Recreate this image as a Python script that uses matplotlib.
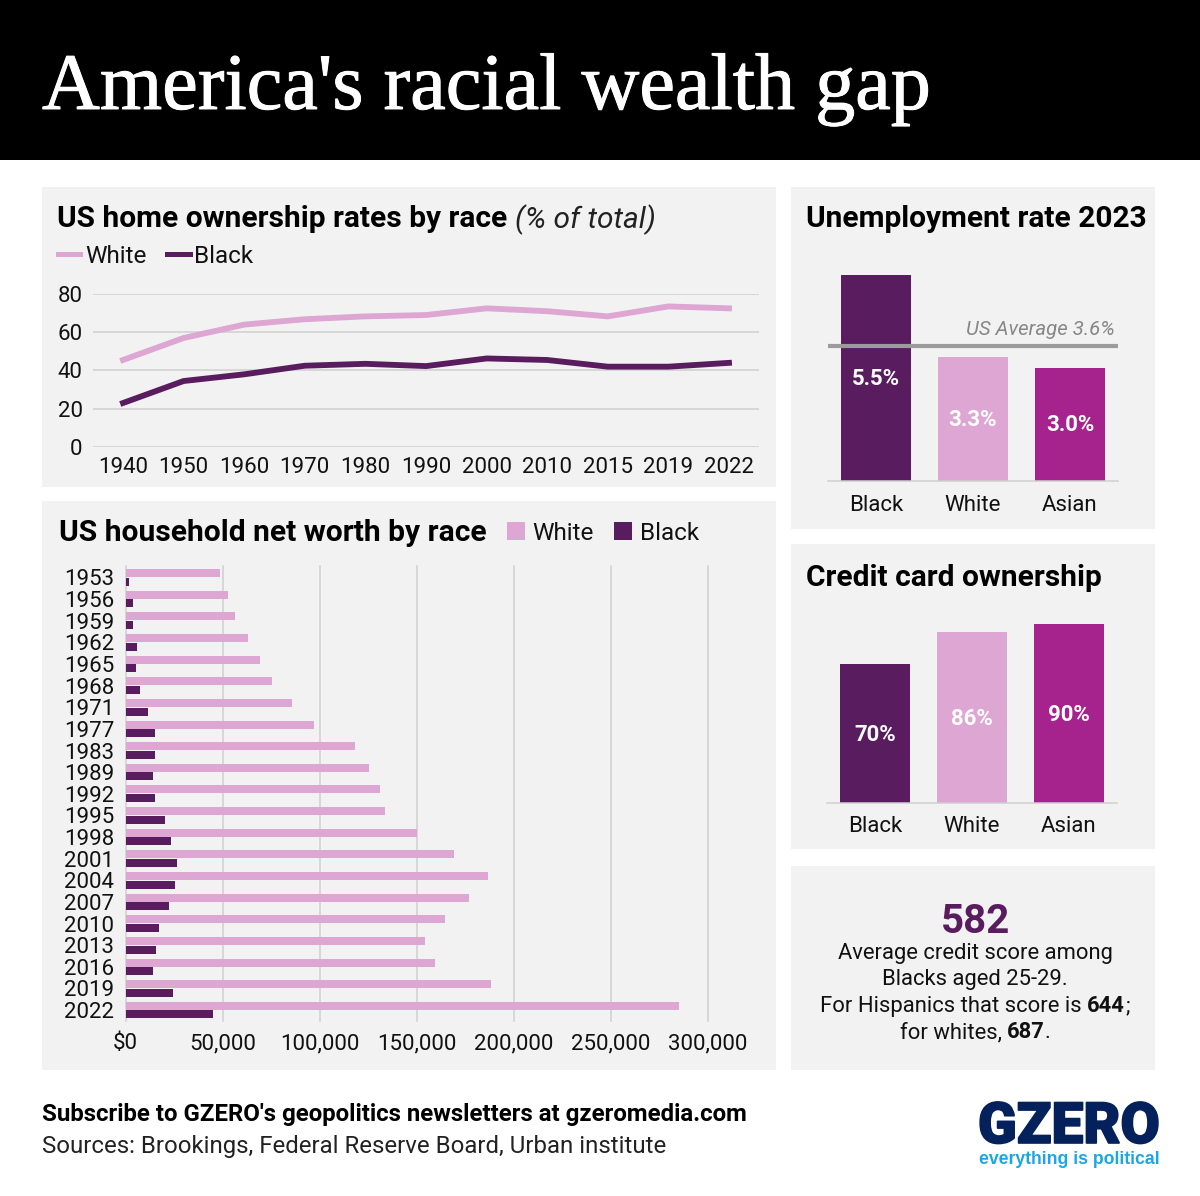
import matplotlib
matplotlib.use("Agg")
import matplotlib.pyplot as plt
import matplotlib.patheffects as pe
from matplotlib.patches import Rectangle

plt.rcParams["font.family"] = ["Roboto", "DejaVu Sans"]

W, H = 1200, 1196

LIGHT = "#dda6d3"
DARK = "#581c5f"
MAGENTA = "#a6228d"
PANEL = "#f2f2f2"
GRID = "#cfcfcf"
INK = "#111111"

# home ownership
home_years = ["1940", "1950", "1960", "1970", "1980", "1990", "2000", "2010", "2015", "2019", "2022"]
home_white = [45.5, 57, 64, 66.8, 68.3, 69, 72.5, 71, 68.3, 73.5, 72.5]
home_black = [23, 34.5, 38, 42.5, 43.5, 42.3, 46.3, 45.5, 42, 42, 44]
home_ticks = [0, 20, 40, 60, 80]

# net worth
worth_years = ["1953", "1956", "1959", "1962", "1965", "1968", "1971", "1977", "1983", "1989", "1992",
               "1995", "1998", "2001", "2004", "2007", "2010", "2013", "2016", "2019", "2022"]
worth_white = [48400, 52500, 56400, 62800, 69300, 75300, 85600, 97000, 118300, 125600, 131100,
               133400, 150000, 169000, 186500, 177000, 164500, 154300, 159300, 188000, 285000]
worth_black = [1500, 3600, 3800, 5800, 5100, 7200, 11500, 14900, 14900, 13900, 14900,
               20000, 23500, 26600, 25500, 22400, 17300, 15400, 13900, 24200, 44900]
worth_ticks = [0, 50000, 100000, 150000, 200000, 250000, 300000]
worth_labels = ["$0", "50,000", "100,000", "150,000", "200,000", "250,000", "300,000"]

# right hand bars
groups = ["Black", "White", "Asian"]
group_colors = [DARK, LIGHT, MAGENTA]
unemployment = [5.5, 3.3, 3.0]
us_average = 3.6
credit_cards = [70, 86, 90]

fig = plt.figure(figsize=(W / 100, H / 100), dpi=100, facecolor="white")

# background axes in pixel coordinates, for panels and loose text
bg = fig.add_axes([0, 0, 1, 1])
bg.set_xlim(0, W)
bg.set_ylim(H, 0)
bg.axis("off")


def box(x0, y0, x1, y1, color):
    bg.add_patch(Rectangle((x0, y0), x1 - x0, y1 - y0, facecolor=color, edgecolor="none"))


def label(x, y, s, size=17, **kw):
    kw.setdefault("va", "center_baseline")
    kw.setdefault("color", INK)
    return bg.text(x, y, s, fontsize=size, **kw)


def runs_centered(cx, y, parts, size):
    # draw mixed regular / bold pieces as one centred line
    r = fig.canvas.get_renderer()
    items = [label(0, y, s, size, fontweight=w) for s, w in parts]
    widths = [t.get_window_extent(r).width for t in items]
    x = cx - sum(widths) / 2
    for t, w in zip(items, widths):
        t.set_x(x)
        x += w


def sub_axes(x0, y0, x1, y1):
    ax = fig.add_axes([x0 / W, 1 - y1 / H, (x1 - x0) / W, (y1 - y0) / H])
    ax.patch.set_alpha(0)
    for s in ax.spines.values():
        s.set_visible(False)
    return ax


# panels
box(0, 0, W, 160, "black")
box(42, 187, 776, 487, PANEL)
box(42, 501, 776, 1070, PANEL)
box(791, 187, 1154.5, 529, PANEL)
box(791, 544, 1154.5, 849, PANEL)
box(791, 866, 1154.5, 1070, PANEL)

title = label(42, 81, "America's racial wealth gap", 57.7, color="white", family="Liberation Serif", ha="left")
title.set_path_effects([pe.withStroke(linewidth=0.7, foreground="white")])

# line chart
label(57, 216, "US home ownership rates by race", 21.5, fontweight="bold", color="black")
label(515, 216, "(% of total)", 21.5, fontstyle="italic", color="#222222")
bg.plot([58, 80], [254, 254], color=LIGHT, lw=3.6)
label(85.5, 254, "White", 17.5)
bg.plot([167, 190], [254, 254], color=DARK, lw=3.6)
label(193.5, 254, "Black", 17.5)

ax = sub_axes(93, 294, 759, 447)
xs = list(range(len(home_years)))
ax.set_xlim(-30 / 60.6, 636 / 60.6)
ax.set_ylim(0, 80)
ax.plot(xs, home_white, color=LIGHT, lw=4.2, clip_on=False, solid_joinstyle="round")
ax.plot(xs, home_black, color=DARK, lw=4.2, clip_on=False, solid_joinstyle="round")
ax.set_xticks(xs, home_years)
ax.set_yticks(home_ticks)
ax.grid(axis="y", color=GRID, lw=1.1)
ax.set_axisbelow(True)
ax.tick_params(axis="x", length=0, labelsize=16, pad=7, labelcolor=INK)
ax.tick_params(axis="y", length=0, labelsize=16, pad=7.5, labelcolor=INK)

# net worth chart
label(59, 530, "US household net worth by race", 21.6, fontweight="bold", color="black")
box(507, 522, 525, 540, LIGHT)
label(532.5, 531, "White", 17.5)
box(614, 522, 632, 540, DARK)
label(639.5, 531, "Black", 17.5)

ax = sub_axes(125.7, 566, 708, 1020.5)
ys = list(range(len(worth_years)))
ax.barh([y - 0.2 for y in ys], worth_white, height=0.37, color=LIGHT, zorder=3)
ax.barh([y + 0.2 for y in ys], worth_black, height=0.37, color=DARK, zorder=3)
ax.set_xlim(0, 300000)
ax.set_ylim(20.48, -0.53)
ax.set_yticks(ys, worth_years)
ax.set_xticks(worth_ticks, worth_labels)
ax.grid(axis="x", color=GRID, lw=1.1, clip_on=False)
ax.set_axisbelow(True)
ax.tick_params(axis="x", length=0, labelsize=16, pad=9, labelcolor=INK)
ax.tick_params(axis="y", length=0, labelsize=16, pad=8.3, labelcolor=INK)

# unemployment
label(806.5, 216, "Unemployment rate 2023", 21.55, fontweight="bold", color="black")
ax = sub_axes(827.5, 274.5, 1118, 480.5)
xs = list(range(len(groups)))
ax.bar(xs, unemployment, width=70 / 97, color=group_colors, zorder=2)
ax.set_xlim(-48.5 / 97, 242 / 97)
ax.set_ylim(0, 5.5)
ax.spines["bottom"].set_visible(True)
ax.spines["bottom"].set_color(GRID)
ax.spines["bottom"].set_linewidth(1.1)
ax.axhline(us_average, color="#9b9b9b", lw=3, zorder=3)
ax.set_xticks(xs, groups)
ax.set_yticks([])
ax.tick_params(axis="x", length=0, labelsize=16, pad=10.3, labelcolor=INK)
for x, v in zip(xs, unemployment):
    ax.text(x, v / 2 + 0.04, f"{v:.1f}%", color="white", fontsize=16,
            fontweight="bold", ha="center", va="center_baseline", zorder=4)
label(1115, 327.5, "US Average 3.6%", 14.7, fontstyle="italic", color="#878787", ha="right")

# credit cards
label(806.5, 575, "Credit card ownership", 21.55, fontweight="bold", color="black")
ax = sub_axes(827, 624, 1117, 803)
ax.bar(xs, credit_cards, width=70 / 97, color=group_colors, zorder=2)
ax.set_xlim(-48 / 97, 242 / 97)
ax.set_ylim(0, 90)
ax.spines["bottom"].set_visible(True)
ax.spines["bottom"].set_color(GRID)
ax.spines["bottom"].set_linewidth(1.1)
ax.set_xticks(xs, groups)
ax.set_yticks([])
ax.tick_params(axis="x", length=0, labelsize=16, pad=9.3, labelcolor=INK)
for x, v in zip(xs, credit_cards):
    ax.text(x, v / 2 + 0.5, f"{v}%", color="white", fontsize=16, fontweight="bold",
            ha="center", va="center_baseline", zorder=4)

# credit score box
label(975.5, 918, "582", 29, fontweight="bold", color=DARK, ha="center")
label(975, 951, "Average credit score among", 15.8, ha="center")
label(975, 977, "Blacks aged 25-29.", 15.8, ha="center")
runs_centered(975, 1004, [("For Hispanics that score is ", "normal"), ("644", "bold"), (";", "normal")], 15.8)
runs_centered(975, 1030, [("for whites, ", "normal"), ("687", "bold"), (".", "normal")], 15.8)

# footer
label(42, 1111.5, "Subscribe to GZERO's geopolitics newsletters at gzeromedia.com", 17.3,
      fontweight="bold", color="black")
label(42, 1144, "Sources: Brookings, Federal Reserve Board, Urban institute", 17.3, color="#222222")

# logo
logo = label(1069, 1143, "GZERO", 41, fontweight="black", color="#05215b", ha="center", va="baseline")
logo.set_path_effects([pe.withStroke(linewidth=1.2, foreground="#05215b")])
label(1069, 1158, "everything is political", 12.7, fontweight="bold", color="#1aa7e5", ha="center",
      family="Liberation Sans")

fig.savefig("out.png", dpi=100, facecolor="white")
